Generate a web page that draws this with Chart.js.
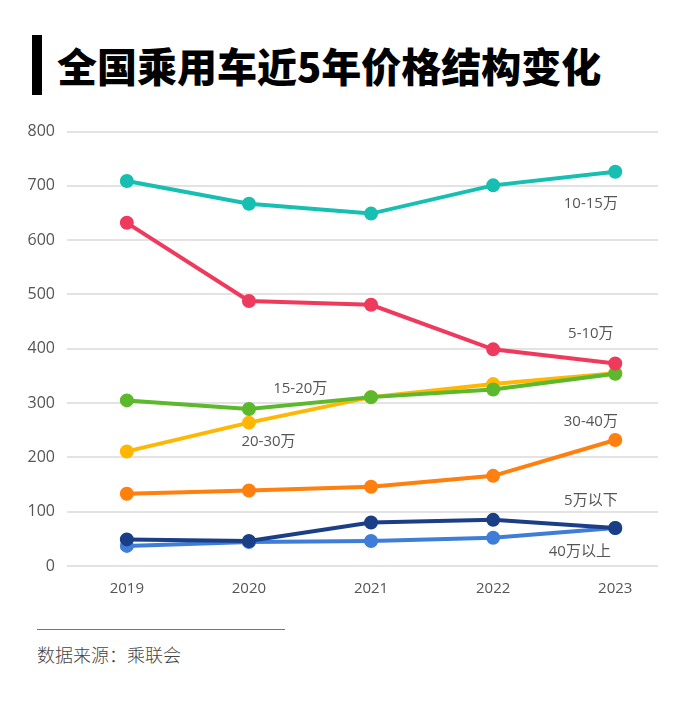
<!DOCTYPE html>
<html>
<head>
<meta charset="utf-8">
<script src="https://cdn.jsdelivr.net/npm/chart.js@4"></script>
<style>
  html, body { margin: 0; padding: 0; background: #fff; }
  body { width: 680px; height: 712px; position: relative; overflow: hidden; }
  .title-bar { position: absolute; left: 32px; top: 35px; width: 10px; height: 60px; background: #000; }
  .title { position: absolute; left: 57px; top: 39px; font-family: "Noto Sans CJK SC", sans-serif;
    font-weight: 900; font-size: 40px; line-height: 52px; color: #000; white-space: nowrap; }
  .chart-box { position: absolute; left: 0; top: 110px; width: 680px; height: 500px; }
  .rule { position: absolute; left: 37px; top: 629px; width: 248px; height: 1px; background: #777; }
  .source { position: absolute; left: 37px; top: 641px; font-family: "Noto Sans CJK SC", sans-serif;
    font-weight: 300; font-size: 18px; color: #444; white-space: nowrap; }
</style>
</head>
<body>
<div class="title-bar"></div>
<div class="title">全国乘用车近5年价格结构变化</div>
<div class="chart-box"><canvas id="chart"></canvas></div>
<div class="rule"></div>
<div class="source">数据来源：乘联会</div>

<script>
const years = [2019, 2020, 2021, 2022, 2023];
const yTicks = [0, 100, 200, 300, 400, 500, 600, 700, 800];

const seriesNames = ["10-15万", "5-10万", "15-20万", "20-30万", "30-40万", "5万以下", "40万以上"];
const seriesColors = ["#16bfb1", "#ef3a5d", "#5cb82c", "#ffb703", "#ff7f0f", "#1b3f86", "#3f7ed8"];

const price10to15 = [709, 667, 649, 701, 726];
const price5to10 = [632, 488, 481, 399, 373];
const price15to20 = [305, 289, 311, 325, 354];
const price20to30 = [211, 264, 311, 335, 355];
const price30to40 = [133, 139, 146, 166, 232];
const priceUnder5 = [49, 46, 80, 85, 70];
const priceOver40 = [37, 44, 46, 52, 70];

const seriesValues = [price10to15, price5to10, price15to20, price20to30, price30to40, priceUnder5, priceOver40];

// where each series name is written, in data space (year, value)
const labelSpots = [
  [2022.8, 667], [2022.8, 428], [2020.42, 326], [2020.16, 229],
  [2022.8, 265], [2022.8, 121], [2022.71, 26],
];

const labelFont = "15px 'Open Sans', 'Noto Sans CJK SC', sans-serif";

const seriesLabels = {
  id: "seriesLabels",
  afterDatasetsDraw(chart) {
    const { ctx, scales } = chart;
    ctx.save();
    ctx.font = labelFont;
    ctx.fillStyle = "#555";
    ctx.textAlign = "center";
    ctx.textBaseline = "middle";
    seriesNames.forEach((name, index) => {
      const [x, y] = labelSpots[index];
      ctx.fillText(name, scales.x.getPixelForValue(x), scales.y.getPixelForValue(y));
    });
    ctx.restore();
  },
};

new Chart(document.getElementById("chart"), {
  type: "line",
  data: {
    datasets: seriesNames.map((name, index) => ({
      label: name,
      data: years.map((year, i) => ({ x: year, y: seriesValues[index][i] })),
      borderColor: seriesColors[index],
      backgroundColor: seriesColors[index],
      borderWidth: 4,
      pointRadius: 5,
      pointHoverRadius: 5,
      tension: 0,
    })),
  },
  options: {
    responsive: true,
    maintainAspectRatio: false,
    animation: false,
    layout: { padding: { top: 3, right: 22, left: 0, bottom: 0 } },
    plugins: {
      legend: { display: false },
      tooltip: { enabled: false },
    },
    scales: {
      x: {
        type: "linear",
        min: 2018.51,
        max: 2023.35,
        grid: { display: false, drawTicks: false },
        border: { display: false },
        afterFit(scale) { scale.height = 44; },
        afterBuildTicks(scale) { scale.ticks = years.map((value) => ({ value })); },
        ticks: {
          padding: 14,
          color: "#555",
          font: { family: "'Open Sans', sans-serif", size: 15 },
          callback(value) { return String(value); },
        },
      },
      y: {
        min: 0,
        max: 800,
        grid: { color: "#e3e3e3", lineWidth: 2, drawTicks: false },
        border: { display: false },
        afterFit(scale) { scale.width = 67; },
        afterBuildTicks(scale) { scale.ticks = yTicks.map((value) => ({ value })); },
        ticks: {
          padding: 12,
          color: "#555",
          font: { family: "'Open Sans', sans-serif", size: 16 },
        },
      },
    },
  },
  plugins: [seriesLabels],
});
</script>
</body>
</html>
